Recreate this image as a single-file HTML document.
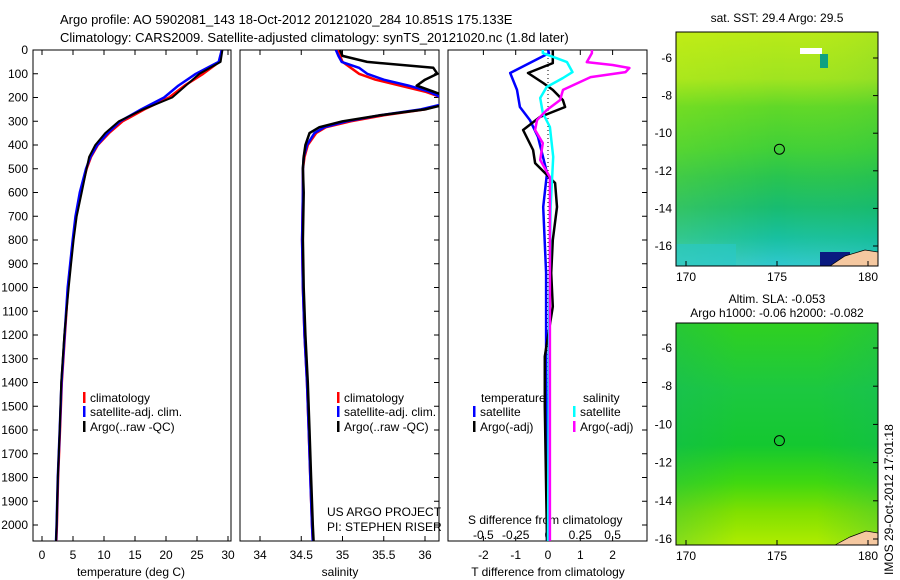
<!DOCTYPE html>
<html><head><meta charset="utf-8">
<style>
body{margin:0;background:#fff;}
svg{display:block;font-family:"Liberation Sans",sans-serif;}
text{font-size:12px;fill:#000;}
</style></head>
<body>
<svg id="c" width="900" height="580">
<defs>
<linearGradient id="g1" x1="0" y1="0" x2="0" y2="1">
<stop offset="0" stop-color="#b8ea18"/><stop offset="0.2" stop-color="#a0e420"/><stop offset="0.32" stop-color="#60d828"/><stop offset="0.5" stop-color="#40d038"/><stop offset="0.62" stop-color="#28c450"/><stop offset="0.75" stop-color="#18bc70"/><stop offset="0.88" stop-color="#18c0a0"/><stop offset="1" stop-color="#30c8d0"/>
</linearGradient>
<linearGradient id="g1h" x1="0" y1="0" x2="1" y2="0">
<stop offset="0" stop-color="#ffff00" stop-opacity="0.12"/><stop offset="0.5" stop-color="#ffff00" stop-opacity="0"/><stop offset="1" stop-color="#00a060" stop-opacity="0.08"/>
</linearGradient>
<linearGradient id="g2" x1="0" y1="0" x2="0" y2="1">
<stop offset="0" stop-color="#30d020"/><stop offset="0.3" stop-color="#1cc840"/><stop offset="0.55" stop-color="#14c830"/><stop offset="0.72" stop-color="#40d810"/><stop offset="0.85" stop-color="#80e000"/><stop offset="1" stop-color="#b0ec00"/>
</linearGradient>
<linearGradient id="g2h" x1="0" y1="0" x2="1" y2="0">
<stop offset="0" stop-color="#10b070" stop-opacity="0.25"/><stop offset="0.3" stop-color="#10b070" stop-opacity="0"/><stop offset="0.7" stop-color="#10b070" stop-opacity="0"/><stop offset="1" stop-color="#10b070" stop-opacity="0.25"/>
</linearGradient>
</defs>
<text x="60" y="24" style="font-size:13px">Argo profile: AO 5902081_143 18-Oct-2012 20121020_284 10.851S 175.133E</text>
<text x="60" y="42" style="font-size:13px">Climatology: CARS2009. Satellite-adjusted climatology: synTS_20121020.nc (1.8d later)</text>
<g id="p1"></g>
<g id="p2"></g>
<g id="p3"></g>
<g id="maps"></g>
<text transform="translate(893,575) rotate(-90)" style="font-size:12px">IMOS 29-Oct-2012 17:01:18</text>
</svg>
<script>
// temperature profile data
const tDepth=[0,50,100,150,200,250,300,350,400,450,500,600,700,800,900,1000,1200,1400,1600,1800,2000,2070];
const tClim=[29.0,28.6,26.0,23.0,20.5,16.5,13.0,10.8,9.0,7.9,7.2,6.2,5.5,5.0,4.6,4.2,3.7,3.2,2.9,2.6,2.4,2.3];
const tSat=[29.0,28.5,24.8,22.0,19.7,16.0,12.6,10.6,8.9,7.8,7.1,6.1,5.4,4.95,4.55,4.15,3.65,3.15,2.85,2.55,2.35,2.25];
const tArgo=[29.1,28.8,25.4,23.2,21.0,16.3,12.4,10.2,8.6,7.6,7.2,6.4,5.6,5.1,4.7,4.3,3.6,3.1,2.85,2.55,2.35,2.25];
// salinity profile data
const sDepth=[0,25,50,75,100,125,150,175,200,225,250,275,300,325,350,400,450,500,600,800,1000,1200,1400,1600,1800,2000,2070];
const sClim=[34.95,34.97,35.0,35.1,35.2,35.4,35.7,36.0,36.2,36.25,36.0,35.5,35.1,34.8,34.68,34.58,34.54,34.52,34.52,34.51,34.52,34.54,34.57,34.59,34.61,34.63,34.64];
const sSat=[34.92,34.95,34.99,35.2,35.3,35.5,35.8,36.05,36.2,36.25,35.95,35.45,35.05,34.78,34.66,34.57,34.53,34.52,34.52,34.51,34.52,34.54,34.57,34.59,34.61,34.63,34.64];
const sArgo=[34.97,35.0,35.3,36.1,36.15,36.0,35.9,36.1,36.3,36.3,36.0,35.45,35.0,34.72,34.6,34.55,34.53,34.52,34.53,34.52,34.53,34.55,34.58,34.6,34.62,34.64,34.65];
// difference data
const dTSatDepth=[0,13,97,168,240,295,366,518,661,939,1360,2067];
const dTSat=[0,0.03,-1.17,-0.96,-0.87,-0.56,-0.31,-0.03,-0.15,-0.06,-0.06,-0.03];
const dTArgoDepth=[0,13,55,97,139,168,211,240,282,337,421,476,560,661,800,939,1080,1290,1500,2067];
const dTArgo=[0.15,0.15,0.15,-0.62,-0.15,0.15,0.46,0.53,-0.25,-0.77,-0.46,-0.4,0.22,0.28,0.15,0.1,0.15,-0.1,-0.1,-0.03];
const dSSatDepth=[0,13,51,93,118,156,202,265,324,450,661,1082,2067];
const dSSat=[-0.04,-0.04,0.147,0.19,0.116,-0.01,-0.06,-0.04,0.015,0.04,0.02,0.01,0];
const dSArgoDepth=[0,13,51,63,76,93,114,168,211,253,295,337,392,463,535,2067];
const dSArgo=[0.34,0.34,0.30,0.50,0.63,0.6,0.33,0.116,0.093,-0.01,-0.085,-0.1,-0.04,-0.06,0.015,0.015];
const depthTicks=[0,100,200,300,400,500,600,700,800,900,1000,1100,1200,1300,1400,1500,1600,1700,1800,1900,2000];
const tTicks=[0,5,10,15,20,25,30];
const sTicks=[34,34.5,35,35.5,36];
const tdTicks=[-2,-1,0,1,2];
const sdTicks=[-0.5,-0.25,0,0.25,0.5];
const sdTickLabels=["-0.5","-0.25","0","0.25","0.5"];
const latTicks=[-6,-8,-10,-12,-14,-16];
const lonTicks=[170,175,180];

const NS='http://www.w3.org/2000/svg';
function mk(tag,attrs,parent,txt){const e=document.createElementNS(NS,tag);for(const k in attrs)e.setAttribute(k,attrs[k]);if(txt!==undefined)e.textContent=txt;parent.appendChild(e);return e;}
const Y0=50,YT=541;
const yD=d=>Y0+d*0.2375;
const xT=v=>42+v*6.2;
const xS=v=>260+(v-34)*82.5;
const xTd=v=>548+v*32.3;
const xSd=v=>548+v*4*32.3;
function frame(g,x0,x1,name){
  const r=mk('rect',{x:x0,y:Y0,width:x1-x0,height:YT-Y0,fill:'none',stroke:'#000','stroke-width':1},g);
  
  
}
function line(g,xs,ds,xf,color,w,name,clip){
  let p='';for(let i=0;i<xs.length;i++)p+=(i?'L':'M')+xf(xs[i]).toFixed(1)+' '+yD(ds[i]).toFixed(1);
  const e=mk('path',{d:p,fill:'none',stroke:color,'stroke-width':w,'stroke-linejoin':'round','clip-path':clip||''},g);
  
  
}
function legend(g,x,y,color,label,name){
  const e=mk('rect',{x:x,y:y-10,width:2.5,height:11,fill:color},g);
  
  
  const t=mk('text',{x:x+7,y:y},g,label);
  
  
}
const svg=document.getElementById('c');
const defs=svg.querySelector('defs');
[['c1',33,231],['c2',240,439],['c3',448,647]].forEach(a=>{const cp=mk('clipPath',{id:a[0]},defs);mk('rect',{x:a[1],y:Y0,width:a[2]-a[1],height:YT-Y0},cp);});

// Panel 1
const p1=document.getElementById('p1');
frame(p1,33,231,'temperature-frame');
depthTicks.forEach(d=>{mk('line',{x1:33,x2:38,y1:yD(d),y2:yD(d),stroke:'#000'},p1);
  const t=mk('text',{x:28,y:yD(d)+4,'text-anchor':'end'},p1,String(d));
  
  });
tTicks.forEach(v=>{mk('line',{x1:xT(v),x2:xT(v),y1:YT,y2:YT-5,stroke:'#000'},p1);mk('line',{x1:xT(v),x2:xT(v),y1:Y0,y2:Y0+5,stroke:'#000'},p1);
  const t=mk('text',{x:xT(v),y:559,'text-anchor':'middle'},p1,String(v));
  
  });
const xl1=mk('text',{x:131,y:576,'text-anchor':'middle'},p1,'temperature (deg C)');


line(p1,tClim,tDepth,xT,'#f00',2.5,'temperature-climatology-line','url(#c1)');
line(p1,tSat,tDepth,xT,'#00f',2.5,'temperature-satellite-line','url(#c1)');
line(p1,tArgo,tDepth,xT,'#000',2,'temperature-argo-line','url(#c1)');
legend(p1,83,402,'#f00','climatology','legend-climatology');
legend(p1,83,416,'#00f','satellite-adj. clim.','legend-satellite');
legend(p1,83,431,'#000','Argo(..raw -QC)','legend-argo');

// Panel 2
const p2=document.getElementById('p2');
frame(p2,240,439,'salinity-frame');
depthTicks.forEach(d=>{mk('line',{x1:439,x2:434,y1:yD(d),y2:yD(d),stroke:'#000'},p2);});
sTicks.forEach(v=>{mk('line',{x1:xS(v),x2:xS(v),y1:YT,y2:YT-5,stroke:'#000'},p2);mk('line',{x1:xS(v),x2:xS(v),y1:Y0,y2:Y0+5,stroke:'#000'},p2);
  const t=mk('text',{x:xS(v),y:559,'text-anchor':'middle'},p2,String(v));
  
  });
const xl2=mk('text',{x:340,y:576,'text-anchor':'middle'},p2,'salinity');


line(p2,sClim,sDepth,xS,'#f00',2.5,'salinity-climatology-line','url(#c2)');
line(p2,sSat,sDepth,xS,'#00f',2.5,'salinity-satellite-line','url(#c2)');
line(p2,sArgo,sDepth,xS,'#000',2.5,'salinity-argo-line','url(#c2)');
legend(p2,337,402,'#f00','climatology','legend2-climatology');
legend(p2,337,416,'#00f','satellite-adj. clim.','legend2-satellite');
legend(p2,337,431,'#000','Argo(..raw -QC)','legend2-argo');
const u1=mk('text',{x:327,y:516},p2,'US ARGO PROJECT');


const u2=mk('text',{x:327,y:531},p2,'PI: STEPHEN RISER');



// Panel 3
const p3=document.getElementById('p3');
frame(p3,448,647,'difference-frame');
depthTicks.forEach(d=>{mk('line',{x1:647,x2:642,y1:yD(d),y2:yD(d),stroke:'#000'},p3);});
mk('line',{x1:xTd(0),x2:xTd(0),y1:Y0,y2:YT,stroke:'#000','stroke-dasharray':'1 3'},p3);
tdTicks.forEach(v=>{mk('line',{x1:xTd(v),x2:xTd(v),y1:YT,y2:YT-5,stroke:'#000'},p3);
  const t=mk('text',{x:xTd(v),y:559,'text-anchor':'middle'},p3,String(v));
  
  });
sdTicks.forEach((v,i)=>{mk('line',{x1:xSd(v),x2:xSd(v),y1:Y0,y2:Y0+5,stroke:'#000'},p3);
  const t=mk('text',{x:xSd(v),y:539,'text-anchor':'middle'},p3,sdTickLabels[i]);
  
  });
const sdt=mk('text',{x:468,y:524},p3,'S difference from climatology');


const tdt=mk('text',{x:548,y:576,'text-anchor':'middle'},p3,'T difference from climatology');


line(p3,dTSat,dTSatDepth,xTd,'#00f',2.5,'tdiff-satellite-line','url(#c3)');
line(p3,dTArgo,dTArgoDepth,xTd,'#000',2.5,'tdiff-argo-line','url(#c3)');
line(p3,dSSat,dSSatDepth,xSd,'#0ff',2.5,'sdiff-satellite-line','url(#c3)');
line(p3,dSArgo,dSArgoDepth,xSd,'#f0f',2.5,'sdiff-argo-line','url(#c3)');
const lt=mk('text',{x:481,y:402},p3,'temperature');


const ls=mk('text',{x:583,y:402},p3,'salinity');


legend(p3,473,416,'#00f','satellite','legend3-t-satellite');
legend(p3,473,431,'#000','Argo(-adj)','legend3-t-argo');
legend(p3,573,416,'#0ff','satellite','legend3-s-satellite');
legend(p3,573,431,'#f0f','Argo(-adj)','legend3-s-argo');

// Maps
const maps=document.getElementById('maps');
const xLon=v=>686+(v-170)*18.2;
function map(y0,y1,latY,grad,name,titles){
  const g=mk('g',{},maps);
  
  
  mk('rect',{x:676,y:y0,width:202,height:y1-y0,fill:'url(#'+grad+')'},g);
  mk('rect',{x:676,y:y0,width:202,height:y1-y0,fill:'url(#'+grad+'h)'},g);
  if(grad==='g1'){
    mk('rect',{x:800,y:y0+16,width:22,height:6,fill:'#fff'},g);
    mk('rect',{x:820,y:y0+22,width:8,height:14,fill:'#10a080'},g);
    mk('rect',{x:676,y:y1-22,width:60,height:22,fill:'#28c8c8','fill-opacity':0.6},g);
    mk('rect',{x:820,y:y1-14,width:30,height:14,fill:'#0a1a80'},g);
    mk('path',{d:`M830 ${y1} L845 ${y1-10} L865 ${y1-16} L878 ${y1-14} L878 ${y1} Z`,fill:'#f5c8a0',stroke:'#000','stroke-width':0.7},g);
  } else {
    mk('path',{d:`M835 ${y1} L850 ${y1-8} L866 ${y1-14} L878 ${y1-12} L878 ${y1} Z`,fill:'#f5c8a0',stroke:'#000','stroke-width':0.7},g);
  }
  mk('rect',{x:676,y:y0,width:202,height:y1-y0,fill:'none',stroke:'#000'},g);
  const c=mk('circle',{cx:xLon(175.133),cy:latY(-10.851),r:5,fill:'none',stroke:'#000'},g);
  
  
  latTicks.forEach(v=>{mk('line',{x1:878,x2:873,y1:latY(v),y2:latY(v),stroke:'#000'},g);
    const t=mk('text',{x:672,y:latY(v)+4,'text-anchor':'end'},g,String(v));
    
    });
  lonTicks.forEach(v=>{mk('line',{x1:xLon(v),x2:xLon(v),y1:y1,y2:y1-5,stroke:'#000'},g);
    const t=mk('text',{x:xLon(v),y:y1+15,'text-anchor':'middle'},g,String(v));
    
    });
  titles.forEach(tt=>{const t=mk('text',{x:tt[1],y:tt[2],'text-anchor':'middle'},g,tt[0]);
    
    });
}
map(32,266,v=>58+(-6-v)*18.8,'g1','sst-map',[['sat. SST: 29.4  Argo: 29.5',777,22]]);
map(323,545,v=>348+(-6-v)*19.1,'g2','sla-map',[['Altim. SLA: -0.053',777,303],['Argo h1000: -0.06 h2000: -0.082',777,317]]);
</script>
</body></html>
